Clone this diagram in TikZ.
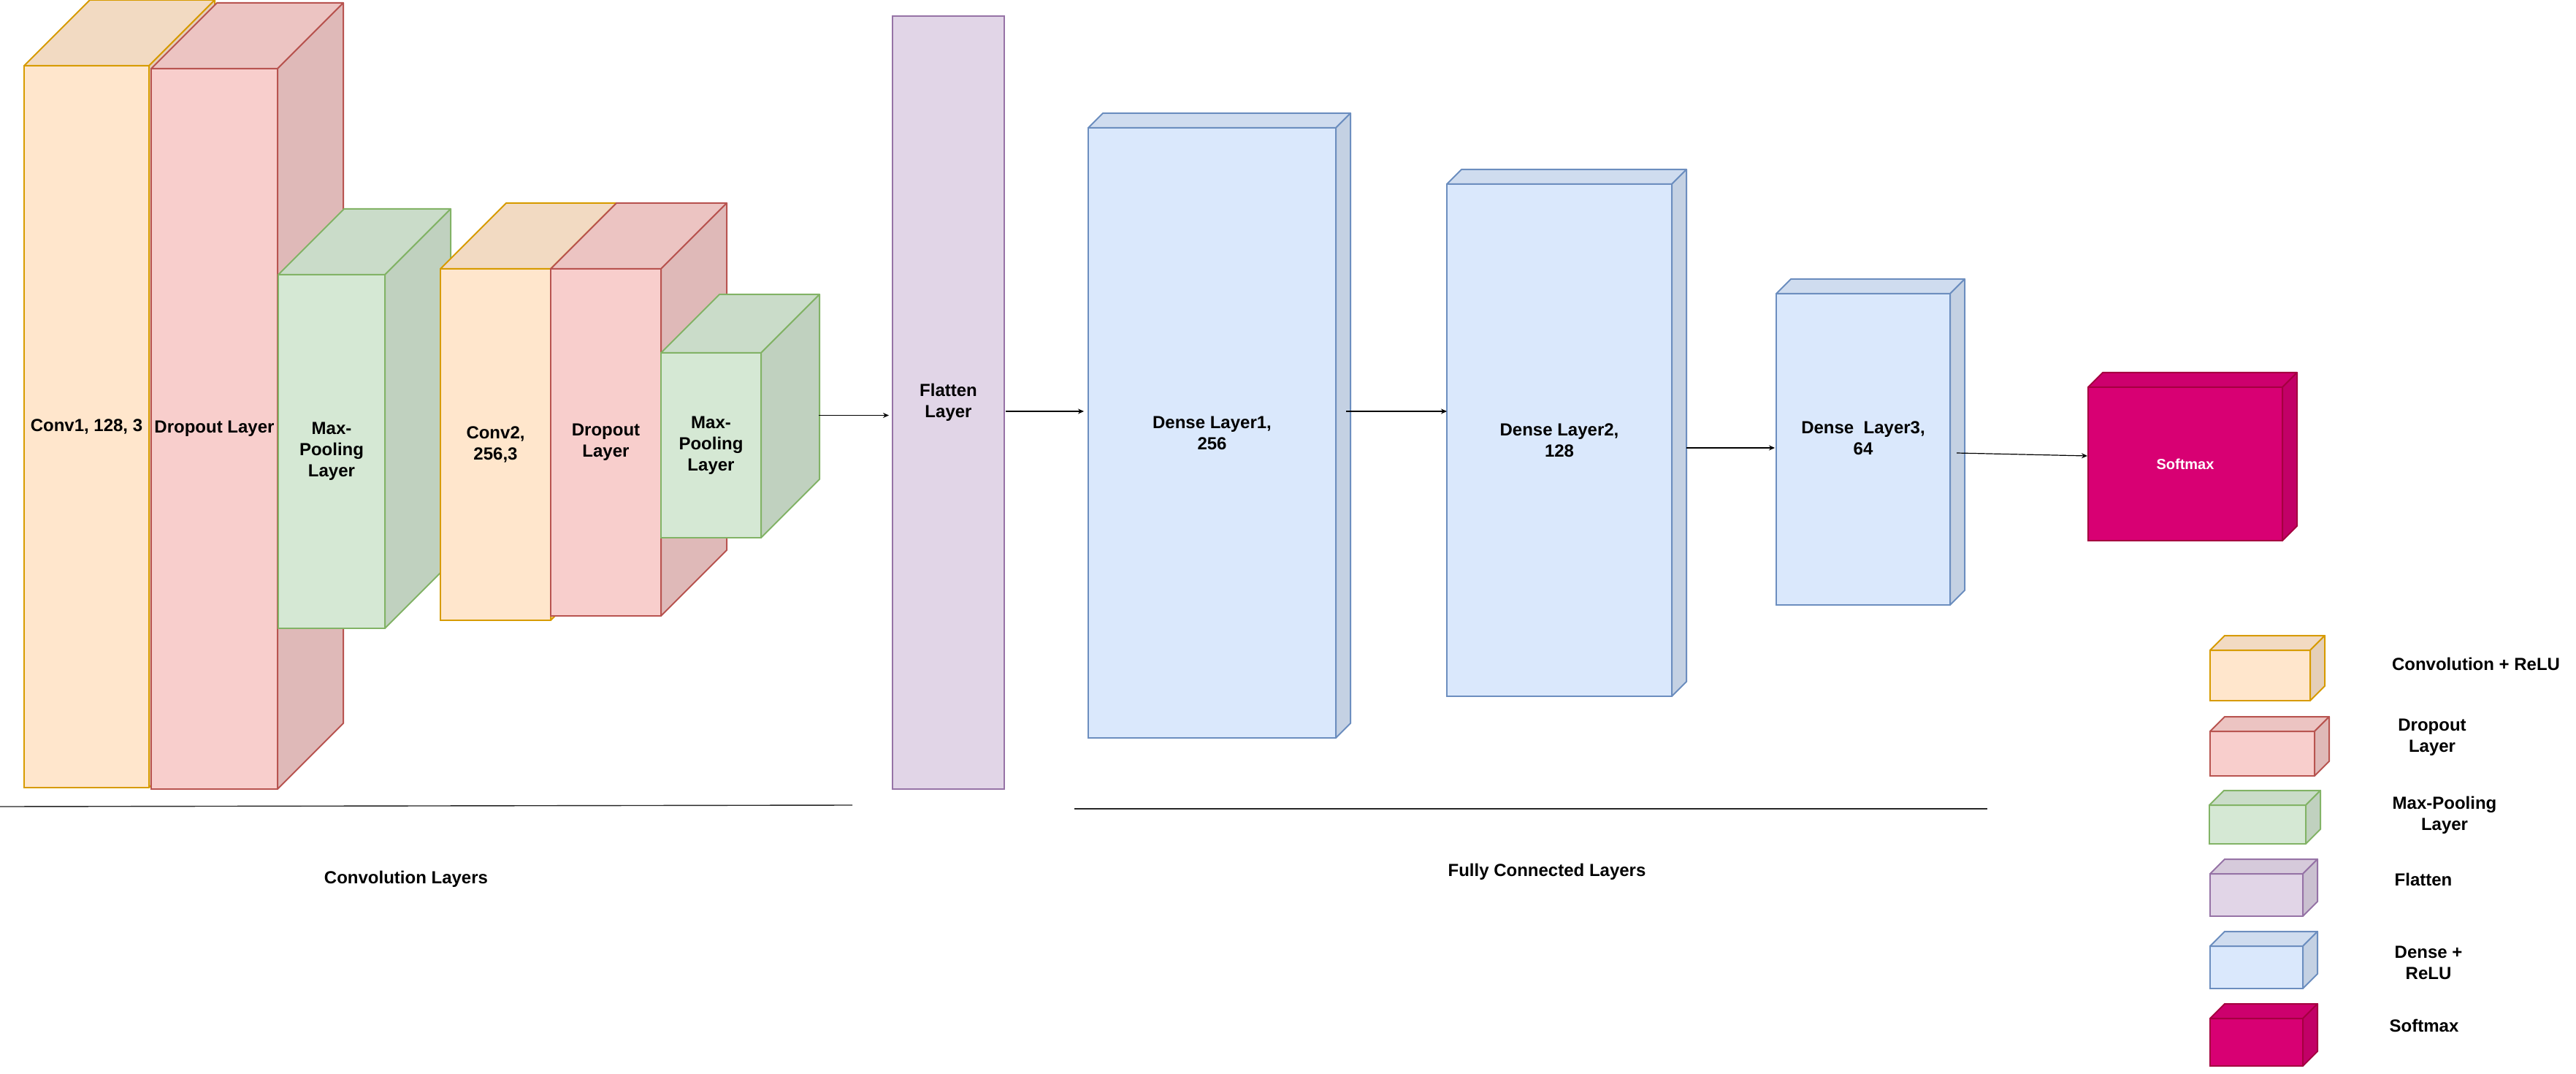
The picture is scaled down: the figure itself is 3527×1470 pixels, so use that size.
\documentclass[tikz,border=0pt]{standalone}
\usepackage{fontspec}
\setmainfont{Liberation Sans}
\usetikzlibrary{arrows.meta}

\definecolor{convfill}{HTML}{FFE6CC}
\definecolor{convline}{HTML}{D79B00}
\definecolor{dropfill}{HTML}{F8CECC}
\definecolor{dropline}{HTML}{B85450}
\definecolor{poolfill}{HTML}{D5E8D4}
\definecolor{poolline}{HTML}{82B366}
\definecolor{flatfill}{HTML}{E1D5E7}
\definecolor{flatline}{HTML}{9673A6}
\definecolor{densefill}{HTML}{DAE8FC}
\definecolor{denseline}{HTML}{6C8EBF}
\definecolor{softfill}{HTML}{D80073}
\definecolor{softline}{HTML}{A50040}

% top and side face of a block: node, depth, colour
\newcommand{\cubefaces}[3]{%
  \draw[#3line, fill=#3fill!95!black, line width=1pt, line join=round]
    (#1.north west) -- ++(#2,-#2) -- ([shift={(#2,-#2)}]#1.north east) -- (#1.north east) -- cycle;
  \draw[#3line, fill=#3fill!90!black, line width=1pt, line join=round]
    (#1.north east) -- ([shift={(#2,-#2)}]#1.north east) -- ([shift={(#2,-#2)}]#1.south east) -- (#1.south east) -- cycle;
}

\begin{document}
\begin{tikzpicture}[x=0.5pt, y=-0.5pt,
  >={Stealth[length=4pt,width=3.5pt]},
  layer/.style={rectangle, draw=#1line, fill=#1fill, line width=1pt, inner sep=0pt, outer sep=0pt,
    anchor=north west, align=center, font=\bfseries\fontsize{12}{14.4}\selectfont},
  flow/.style={->, line width=0.6pt},
  rule/.style={line width=0.7pt, black!85},
  caption/.style={align=center, font=\bfseries\fontsize{12}{14.4}\selectfont}]

\fill[white] (0,0) rectangle (3527,1470);
\useasboundingbox (0,0) rectangle (3527,1470);

% Convolution part
\node[layer=conv, minimum width=85.5pt, minimum height=494pt] (conv1) at (33,90) {Conv1, 128, 3};
\cubefaces{conv1}{90}{conv}
\node[layer=drop, minimum width=86.5pt, minimum height=493pt] (drop1) at (207,94) {Dropout Layer};
\cubefaces{drop1}{90}{drop}
\node[layer=pool, minimum width=73pt, minimum height=242pt] (pool1) at (381,376) {Max-\\Pooling\\Layer};
\cubefaces{pool1}{90}{pool}
\node[layer=conv, minimum width=75.5pt, minimum height=240.5pt] (conv2) at (603,368) {Conv2,\\256,3};
\cubefaces{conv2}{90}{conv}
\node[layer=drop, minimum width=75.5pt, minimum height=237.5pt] (drop2) at (754,368) {Dropout\\Layer};
\cubefaces{drop2}{90}{drop}
\node[layer=pool, minimum width=68.5pt, minimum height=126.5pt] (pool2) at (905,483) {Max-\\Pooling\\Layer};
\cubefaces{pool2}{80}{pool}

% Flatten and fully connected part
\node[layer=flat, minimum width=76.5pt, minimum height=529pt] (flat) at (1222,22) {Flatten\\Layer};
\node[layer=dense, minimum width=169.5pt, minimum height=417.5pt] (dense1) at (1490,175) {Dense Layer1,\\256};
\cubefaces{dense1}{20}{dense}
\node[layer=dense, minimum width=154pt, minimum height=350.5pt] (dense2) at (1981,252) {Dense Layer2,\\128};
\cubefaces{dense2}{20}{dense}
\node[layer=dense, minimum width=119pt, minimum height=213pt, text depth=15pt] (dense3) at (2432,402) {Dense\ \ Layer3,\\64};
\cubefaces{dense3}{20}{dense}
\node[layer=soft, minimum width=133pt, minimum height=105pt, text=white, font=\bfseries\fontsize{10}{12}\selectfont] (soft) at (2859,530) {Softmax};
\cubefaces{soft}{20}{soft}

% Arrows between the layers
\coordinate (p1) at ([shift={(79,-41)}]pool2.east);
\draw[flow, shorten >=2.5pt] (p1) -- (p1 -| flat.west);
\coordinate (p2) at ([shift={(2,12)}]flat.east);
\draw[flow, shorten >=3pt] (p2) -- (p2 -| dense1.west);
\coordinate (p3) at ([shift={(14,-29.5)}]dense1.east);
\draw[flow] (p3) -- (p3 -| dense2.west);
\coordinate (p4) at ([shift={(20,10.5)}]dense2.east);
\draw[flow, shorten >=1pt] (p4) -- (p4 -| dense3.west);
\draw[flow] ([shift={(9,5)}]dense3.east) -- ([shift={(-1,-11)}]soft.west);

% Group lines and captions
\draw[rule] (0,1104) -- (1167,1102);
\draw[rule] (1471,1107) -- (2721,1107);
\node[caption] (convcaption) at (556,1203) {Convolution Layers};
\node[caption] (fccaption) at (2118,1193) {Fully Connected Layers};

% Legend
\node[layer=conv, minimum width=68.5pt, minimum height=34.5pt] (keyconv) at (3026,890) {};
\cubefaces{keyconv}{20}{conv}
\node[layer=drop, minimum width=71.5pt, minimum height=30.5pt] (keydrop) at (3026,1001) {};
\cubefaces{keydrop}{20}{drop}
\node[layer=pool, minimum width=66pt, minimum height=26.5pt] (keypool) at (3025,1102) {};
\cubefaces{keypool}{20}{pool}
\node[layer=flat, minimum width=63.5pt, minimum height=29pt] (keyflat) at (3026,1196) {};
\cubefaces{keyflat}{20}{flat}
\node[layer=dense, minimum width=63.5pt, minimum height=29pt] (keydense) at (3026,1295) {};
\cubefaces{keydense}{20}{dense}
\node[layer=soft, minimum width=63.5pt, minimum height=32.5pt] (keysoft) at (3026,1394) {};
\cubefaces{keysoft}{20}{soft}

\node[caption] (keyconvtext) at (3390,909) {Convolution + ReLU};
\node[caption] (keydroptext) at (3330,1009) {Dropout\\Layer};
\node[caption] (keypooltext) at (3347,1116) {Max-Pooling\\Layer};
\node[caption] (keyflattext) at (3318,1204) {Flatten};
\node[caption] (keydensetext) at (3325,1318) {Dense +\\ReLU};
\node[caption] (keysofttext) at (3319,1404) {Softmax};

\end{tikzpicture}
\end{document}
